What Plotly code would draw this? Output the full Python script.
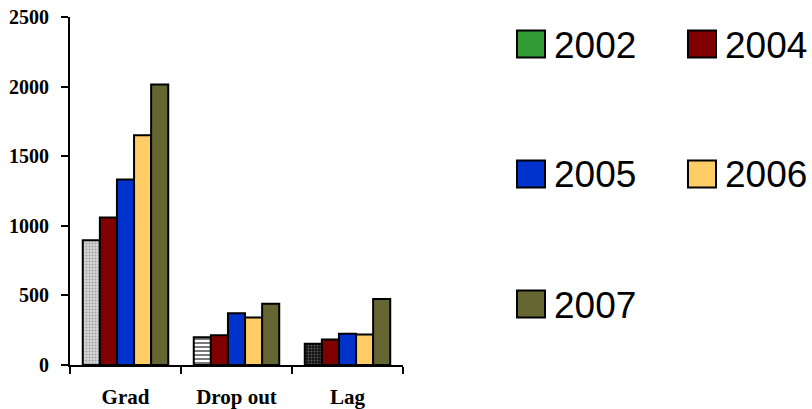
import plotly.graph_objects as go

categories = ["Grad", "Drop out", "Lag"]
years = ["2002", "2004", "2005", "2006", "2007"]
values = {
    "2002": [897, 199, 153],
    "2004": [1060, 213, 184],
    "2005": [1333, 371, 225],
    "2006": [1651, 342, 220],
    "2007": [2015, 440, 474],
}
colors = {
    "2002": "#339933",
    "2004": "#800000",
    "2005": "#0033CC",
    "2006": "#FFCC66",
    "2007": "#666633",
}
y_ticks = [0, 500, 1000, 1500, 2000, 2500]

W, H = 812, 409
L, R, T, B = 70, 409, 17, 44
pw, ph = W - L - R, H - T - B

def px_x(px):
    return (px - L) / pw

def px_y(py):
    return (H - B - py) / ph

fig = go.Figure()
for yr in years:
    marker = dict(color=colors[yr], line=dict(color="black", width=2))
    if yr == "2002":
        marker["pattern"] = dict(
            shape=[".", "-", "."],
            bgcolor=["#e6e6e6", "#ffffff", "#111111"],
            fgcolor=["#a8a8a8", "#7a7a7a", "#5a5a5a"],
            size=[3, 4, 3],
            solidity=[0.5, 0.5, 0.35],
            fillmode="replace",
        )
    fig.add_trace(go.Bar(x=categories, y=values[yr], name=yr, marker=marker,
                         showlegend=False, hoverinfo="skip"))

# manual legend
legend_pos = [(517, 44), (688, 44), (517, 174), (688, 174), (517, 304)]
for yr, (bx, cy) in zip(years, legend_pos):
    fig.add_shape(type="rect", xref="paper", yref="paper",
                  x0=px_x(bx), x1=px_x(bx + 28), y0=px_y(cy + 13.5), y1=px_y(cy - 13.5),
                  fillcolor=colors[yr], line=dict(color="black", width=2))
    fig.add_annotation(xref="paper", yref="paper", x=px_x(bx + 35), y=px_y(cy + 1),
                       text=yr, showarrow=False, xanchor="left", yanchor="middle",
                       font=dict(family="Liberation Sans, Arial", size=37, color="black"))

fig.update_layout(
    width=W, height=H,
    margin=dict(l=L, r=R, t=T, b=B, autoexpand=False),
    paper_bgcolor="white", plot_bgcolor="white",
    barmode="group", bargap=0.23, bargroupgap=0,
    font=dict(family="Liberation Serif, Times New Roman", color="black"),
)
fig.update_xaxes(
    automargin=False,
    showline=True, linecolor="black", linewidth=2,
    ticks="outside", tickson="boundaries", ticklen=7, tickwidth=2, tickcolor="black",
    tickfont=dict(family="Liberation Serif", size=21, color="black", weight="bold"),
    ticklabelstandoff=12, showgrid=False,
)
fig.update_yaxes(
    automargin=False,
    range=[0, 2500], tickvals=y_ticks, ticktext=[str(v) for v in y_ticks],
    showline=True, linecolor="black", linewidth=2,
    ticks="outside", ticklen=7, tickwidth=2, tickcolor="black",
    tickfont=dict(family="Liberation Serif", size=20, color="black", weight="bold"),
    ticklabelstandoff=8, showgrid=False, zeroline=False,
)

fig.write_html("out.html", config={"displayModeBar": False},
               post_script="document.body.style.margin='0';")
